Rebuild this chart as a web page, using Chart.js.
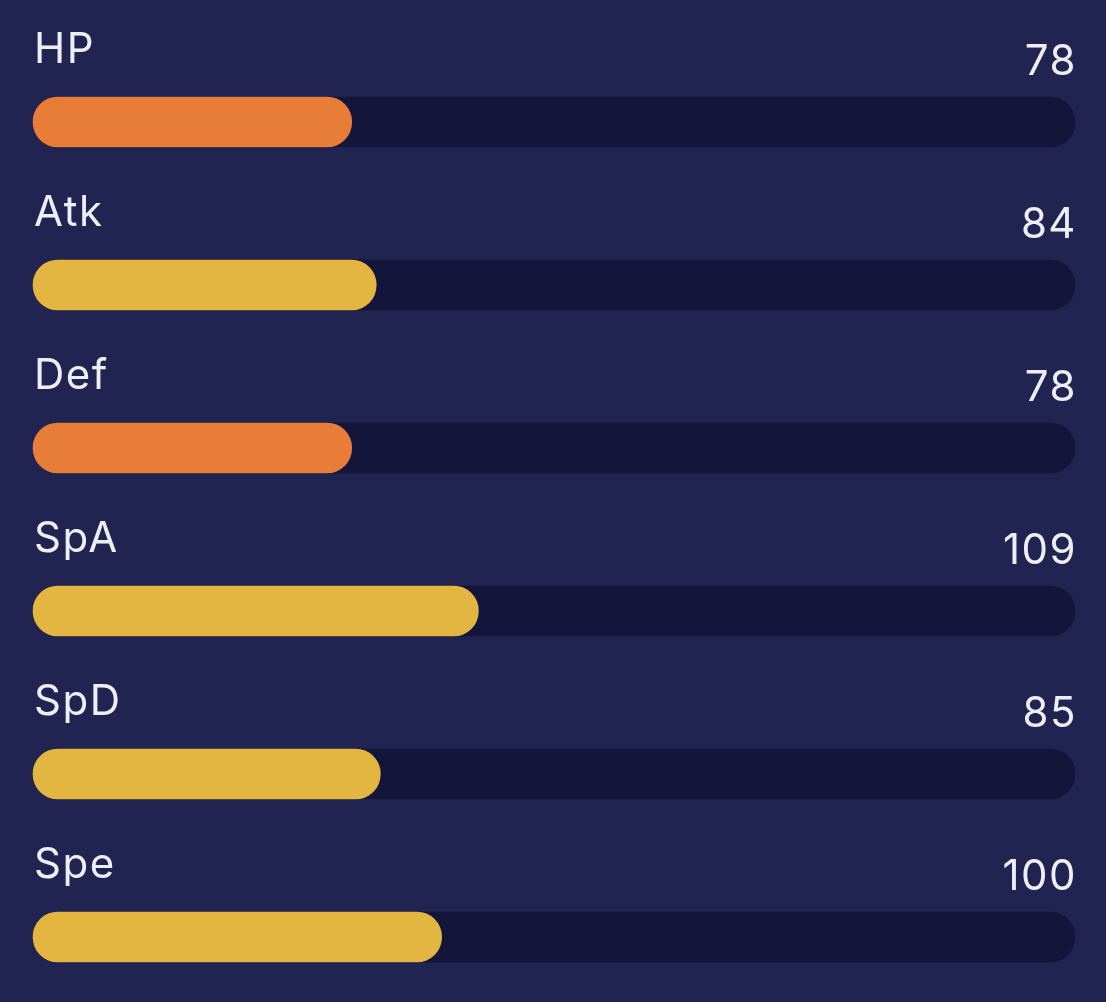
<!DOCTYPE html>
<html>
<head>
<meta charset="utf-8">
<script src="https://cdn.jsdelivr.net/npm/chart.js@4"></script>
<style>
  html, body { margin: 0; padding: 0; background: #212350; }
  #wrap { width: 1106px; height: 1002px; }
</style>
</head>
<body>
<div id="wrap"><canvas id="statChart"></canvas></div>
<script>
// stat data
const statLabels = ['HP', 'Atk', 'Def', 'SpA', 'SpD', 'Spe'];
const statValues = [78, 84, 78, 109, 85, 100];
const statMax = 255;
const trackValues = [255, 255, 255, 255, 255, 255];

const ORANGE = '#E87D37';
const YELLOW = '#E3B641';
const barColors = statValues.map(v => v < 80 ? ORANGE : YELLOW);

// draws the stat name above each bar and the number on the right
const statText = {
    id: 'statText',
    afterDatasetsDraw(chart) {
        const { ctx, chartArea, scales } = chart;
        ctx.save();
        ctx.fillStyle = '#EEEEF6';
        ctx.font = '400 42px Inter, "Noto Sans", sans-serif';
        ctx.letterSpacing = '1.5px';
        ctx.textBaseline = 'alphabetic';
        statLabels.forEach((lbl, i) => {
            const yc = scales.y.getPixelForValue(i);
            ctx.textAlign = 'left';
            ctx.fillText(lbl, chartArea.left + 1, yc - 59);
            ctx.textAlign = 'right';
            ctx.fillText(String(statValues[i]), chartArea.right + 2, yc - 47);
        });
        ctx.restore();
    }
};

const ctx = document.getElementById('statChart');
const statChart = new Chart(ctx, {
    type: 'bar',
    data: {
        labels: statLabels,
        datasets: [
            // value bars (index 0 -> drawn on top)
            {
                data: statValues,
                backgroundColor: barColors,
                borderRadius: 25,
                borderSkipped: false,
                barThickness: 50,
                grouped: false,
                clip: false,
            },
            // dark track
            {
                data: trackValues,
                backgroundColor: '#13153A',
                borderRadius: 25,
                borderSkipped: false,
                barThickness: 50,
                grouped: false,
                clip: false,
            }
        ]
    },
    options: {
        indexAxis: 'y',
        responsive: true,
        maintainAspectRatio: false,
        animation: false,
        layout: {
            padding: { left: 33, right: 31, top: 122, bottom: 65 }
        },
        scales: {
            x: {
                display: false,
                min: 0,
                max: statMax,
            },
            y: {
                display: false,
                offset: false,
            }
        },
        plugins: {
            legend: { display: false },
            tooltip: { enabled: false }
        }
    },
    plugins: [statText]
});
</script>
</body>
</html>
